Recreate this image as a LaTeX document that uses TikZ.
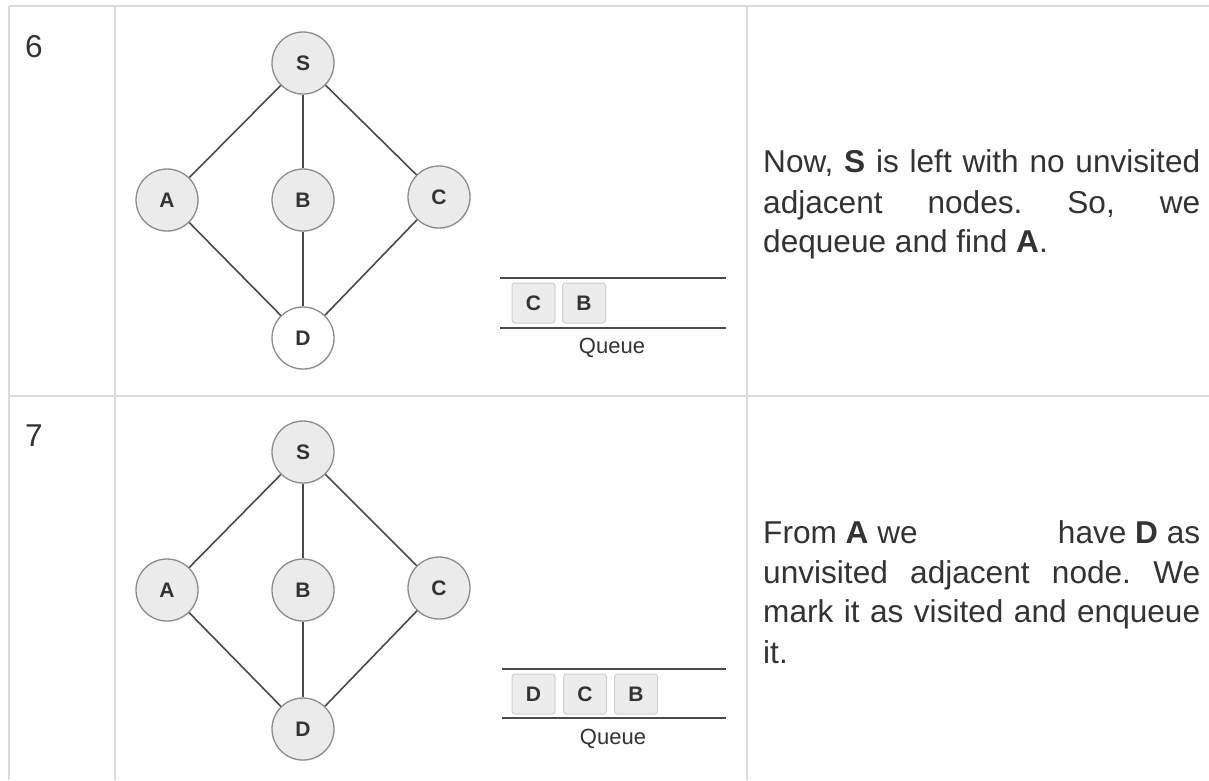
\documentclass[tikz,border=0pt]{standalone}
\usepackage{fontspec}
\setmainfont{Liberation Sans}
\usetikzlibrary{shadows}
\frenchspacing
\definecolor{gridgray}{HTML}{DADADA}
\definecolor{textgray}{HTML}{333333}
\definecolor{edgegray}{HTML}{4A4A4A}
\definecolor{nodefill}{HTML}{EBEBEB}
\definecolor{nodeline}{HTML}{8C8C8C}
\definecolor{qfill}{HTML}{ECECEC}
\definecolor{qline}{HTML}{CFCFCF}
\tikzset{
  gridline/.style={draw=gridgray, line width=2pt},
  vert/.style={circle, minimum size=62pt, inner sep=0pt, draw=nodeline, line width=1.3pt, fill=nodefill,
    font=\fontsize{21}{21}\selectfont\bfseries, text=textgray,
    drop shadow={opacity=0.12, shadow xshift=0.6pt, shadow yshift=-1.2pt}},
  fresh/.style={vert, fill=white},
  edge/.style={draw=edgegray, line width=1.6pt},
  qbox/.style={rectangle, rounded corners=3pt, minimum width=43pt, minimum height=40pt, inner sep=0pt,
    draw=qline, line width=1pt, fill=qfill, font=\fontsize{21}{21}\selectfont\bfseries, text=textgray},
  qrule/.style={draw=edgegray, line width=1.5pt},
  qlabel/.style={font=\fontsize{22}{22}\selectfont, text=textgray, inner sep=0pt},
  txt/.style={anchor=base west, inner sep=0pt, font=\fontsize{31.6}{38}\selectfont, text=textgray},
}
\begin{document}
\begin{tikzpicture}[x=1pt, y=-1pt]
\useasboundingbox (0,0) rectangle (1209,780);
\fill[white] (0,0) rectangle (1209,780);
% table grid
\draw[gridline] (9,6) -- (1209,6);
\draw[gridline] (9,396) -- (1209,396);
\draw[gridline] (9,6) -- (9,780);
\draw[gridline] (115,6) -- (115,780);
\draw[gridline] (747,6) -- (747,780);

% step numbers
\node[txt] (n6) at (25,57) {6};
\node[txt] (n7) at (25,446) {7};

% ---------- row 6 graph ----------
\node[vert]  (S1) at (303,63) {S};
\node[vert]  (A1) at (167,200) {A};
\node[vert]  (B1) at (303,200) {B};
\node[vert]  (C1) at (439,197) {C};
\node[fresh] (D1) at (303,338) {D};
\draw[edge] (S1) -- (A1);
\draw[edge] (S1) -- (B1);
\draw[edge] (S1) -- (C1);
\draw[edge] (A1) -- (D1);
\draw[edge] (B1) -- (D1);
\draw[edge] (C1) -- (D1);

% queue row 6
\coordinate (q1tl) at (500,278);
\coordinate (q1tr) at (726,278);
\coordinate (q1bl) at (500,328);
\coordinate (q1br) at (726,328);
\draw[qrule] (q1tl) -- (q1tr);
\draw[qrule] (q1bl) -- (q1br);
\node[qbox] (q1c) at (533.5,303) {C};
\node[qbox] (q1b) at (584,303) {B};
\node[qlabel] (q1lab) at (612,348) {Queue};

% text row 6
\node[txt] (t61) at (763,172.7) {\makebox[437pt][s]{Now, \textbf{S} is left with no unvisited}};
\node[txt] (t62) at (763,213) {\makebox[437pt][s]{adjacent nodes. So, we}};
\node[txt] (t63) at (763,252) {dequeue and find \textbf{A}.};

% ---------- row 7 graph ----------
\node[vert] (S2) at (303,452) {S};
\node[vert] (A2) at (167,590) {A};
\node[vert] (B2) at (303,590) {B};
\node[vert] (C2) at (439,588) {C};
\node[vert] (D2) at (303,729) {D};
\draw[edge] (S2) -- (A2);
\draw[edge] (S2) -- (B2);
\draw[edge] (S2) -- (C2);
\draw[edge] (A2) -- (D2);
\draw[edge] (B2) -- (D2);
\draw[edge] (C2) -- (D2);

% queue row 7
\coordinate (q2tl) at (502,669);
\coordinate (q2tr) at (726,669);
\coordinate (q2bl) at (502,718);
\coordinate (q2br) at (726,718);
\draw[qrule] (q2tl) -- (q2tr);
\draw[qrule] (q2bl) -- (q2br);
\node[qbox] (q2d) at (533.5,694) {D};
\node[qbox] (q2c) at (585,694) {C};
\node[qbox] (q2b) at (636,694) {B};
\node[qlabel] (q2lab) at (613,739) {Queue};

% text row 7
\node[txt] (t71) at (763,543.3) {\makebox[437pt][s]{From \textbf{A} we\hfill have \textbf{D} as}};
\node[txt] (t72) at (763,583.3) {\makebox[437pt][s]{unvisited adjacent node. We}};
\node[txt] (t73) at (763,622.7) {\makebox[437pt][s]{mark it as visited and enqueue}};
\node[txt] (t74) at (763,663) {it.};
\end{tikzpicture}
\end{document}
